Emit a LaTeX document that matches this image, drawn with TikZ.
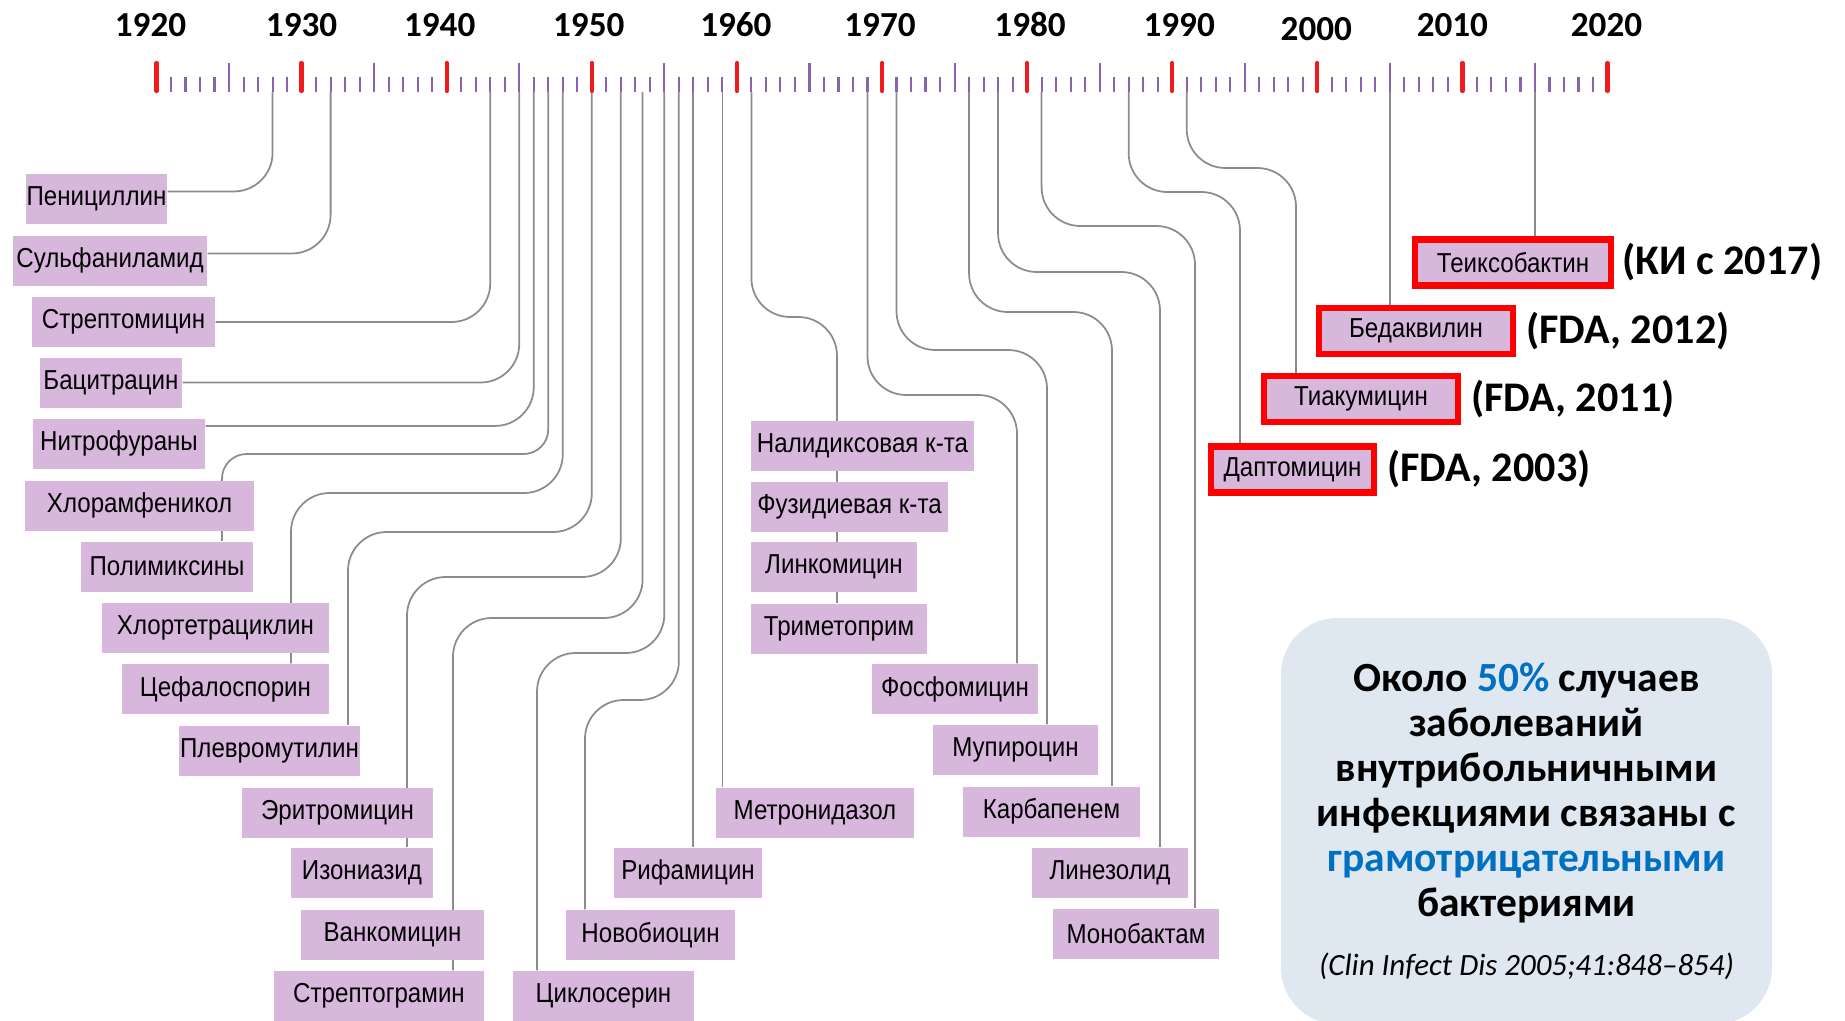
\documentclass[tikz,border=0pt]{standalone}
\usepackage{fontspec}
\setmainfont{Liberation Sans}
\newfontfamily\narrowfont[FakeStretch=0.88]{Liberation Sans}
\newfontfamily\calfont{Carlito}
\usetikzlibrary{positioning}
\pgfdeclarelayer{background}
\pgfsetlayers{background,main}

\definecolor{abxfill}{HTML}{D8B7DD}
\definecolor{linkgray}{HTML}{8C8C8C}
\definecolor{tickpurple}{HTML}{8A62AE}
\definecolor{tickred}{HTML}{EE1C1C}
\definecolor{fdared}{HTML}{FF0000}
\definecolor{notefill}{HTML}{DFE7F1}
\definecolor{noteblue}{HTML}{0070C0}

\tikzset{
  abx/.style       ={fill=abxfill, inner sep=0pt, minimum height=5mm,
                     font=\narrowfont\fontsize{7.8}{9}\selectfont},
  newabx/.style    ={abx, draw=fdared, line width=1.8pt, minimum height=4.6mm},
  link/.style      ={linkgray, line width=0.5pt, rounded corners=11pt},
  yeartick/.style  ={tickpurple, line width=0.6pt},
  decadetick/.style={tickred, line width=1.2pt, line cap=round},
  yearlbl/.style   ={font=\calfont\bfseries\fontsize{10}{12}\selectfont,
                     anchor=base, inner sep=0pt},
  fdalbl/.style    ={font=\calfont\bfseries\fontsize{12}{14}\selectfont, inner sep=1pt},
  notebox/.style   ={fill=notefill, rounded corners=16pt, align=center,
                     minimum width=49.1mm, minimum height=40.6mm,
                     font=\calfont\fontsize{11.8}{12.8}\selectfont},
}

\begin{document}
\begin{tikzpicture}[x=0.1mm, y=-0.1mm]
  \useasboundingbox (0,0) rectangle (1845,1021);

  % time axis
  \foreach \yr in {1920,...,2020} {
    \pgfmathsetmacro\tx{156.5+14.51*(\yr-1920)}
    \pgfmathtruncatemacro\md{mod(\yr,10)}
    \ifnum\md=0
      \draw[decadetick] (\tx,63) -- (\tx,91);
    \else\ifnum\md=5
      \draw[yeartick] (\tx,63) -- (\tx,92);
    \else
      \draw[yeartick] (\tx,77) -- (\tx,92);
    \fi\fi
  }
  \foreach \yr/\dx/\dy in {1920/-6/0, 1930/0/0, 1940/-7/0, 1950/-3/0, 1960/-1/0,
                          1970/-2/0, 1980/3/0, 1990/7/0, 2000/-1/4, 2010/-10/0, 2020/-1/0}
    \node[yearlbl] (lbl\yr) at ({156.5+14.51*(\yr-1920)+\dx},{36+\dy}) {\yr};

  % tick feet
  \foreach \yr in {1928,1932,1943,1945,1946,1947,1948,1950,1952,1955,1956,1957,1959,
                   1961,1969,1971,1976,1978,1981,1987,1991,2005,2015}
    \coordinate (t\yr) at ({156.5+14.51*(\yr-1920)},92);
  \coordinate (t1953b) at ({156.5+14.51*33.5},92);

  % left column
  \node[abx, minimum width=14.1mm] (pen)  at (  96.5, 198.5) {Пенициллин};
  \node[abx, minimum width=19.4mm] (sulf) at ( 110  , 260.5) {Сульфаниламид};
  \node[abx, minimum width=18.3mm] (strm) at ( 123.5, 322  ) {Стрептомицин};
  \node[abx, minimum width=14.2mm] (bac)  at ( 111  , 382.5) {Бацитрацин};
  \node[abx, minimum width=17.2mm] (nitr) at ( 119  , 443.5) {Нитрофураны};
  \node[abx, minimum width=22.9mm] (hlor) at ( 139.5, 505.5) {Хлорамфеникол};
  \node[abx, minimum width=17.2mm] (poly) at ( 167  , 566.5) {Полимиксины};
  \node[abx, minimum width=22.7mm] (hltc) at ( 215.5, 628  ) {Хлортетрациклин};
  \node[abx, minimum width=20.7mm] (ceph) at ( 225.5, 689  ) {Цефалоспорин};
  \node[abx, minimum width=18.1mm] (plev) at ( 269.5, 750.5) {Плевромутилин};
  \node[abx, minimum width=19.1mm] (eri)  at ( 337.5, 812.5) {Эритромицин};
  \node[abx, minimum width=14.2mm] (izo)  at ( 362  , 872.5) {Изониазид};
  \node[abx, minimum width=18.3mm] (vanc) at ( 392.5, 935  ) {Ванкомицин};
  \node[abx, minimum width=21.0mm] (stgr) at ( 379  , 996  ) {Стрептограмин};
  \node[abx, minimum width=18.1mm] (cycl) at ( 603.5, 996  ) {Циклосерин};
  \node[abx, minimum width=16.9mm] (novo) at ( 650.5, 935  ) {Новобиоцин};
  \node[abx, minimum width=14.8mm] (rif)  at ( 688  , 872.5) {Рифамицин};
  \node[abx, minimum width=19.8mm] (metr) at ( 815  , 812.5) {Метронидазол};

  % middle column
  \node[abx, minimum width=22.3mm] (nal)  at ( 862.5, 446  ) {Налидиксовая к-та};
  \node[abx, minimum width=19.7mm] (fuz)  at ( 849.5, 507  ) {Фузидиевая к-та};
  \node[abx, minimum width=16.6mm] (linc) at ( 834  , 567  ) {Линкомицин};
  \node[abx, minimum width=17.6mm] (trim) at ( 839  , 628.5) {Триметоприм};
  \node[abx, minimum width=16.6mm] (fosf) at ( 955  , 689  ) {Фосфомицин};
  \node[abx, minimum width=16.5mm] (mup)  at (1015.5, 750  ) {Мупироцин};
  \node[abx, minimum width=17.7mm] (carb) at (1051.5, 811.5) {Карбапенем};
  \node[abx, minimum width=15.6mm] (linz) at (1110  , 872.5) {Линезолид};
  \node[abx, minimum width=16.6mm] (mono) at (1136  , 933.5) {Монобактам};

  % new ones
  \node[newabx, minimum width=16.3mm] (dapt) at (1292.5, 469.5) {Даптомицин};
  \node[newabx, minimum width=19.4mm] (tiak) at (1361  , 399  ) {Тиакумицин};
  \node[newabx, minimum width=19.4mm] (bedq) at (1416  , 331  ) {Бедаквилин};
  \node[newabx, minimum width=19.6mm] (teix) at (1513  , 262.5) {Теиксобактин};
  \node[fdalbl, right=0.6mm of dapt] (daptnote) {(FDA, 2003)};
  \node[fdalbl, right=0.6mm of tiak] (tiaknote) {(FDA, 2011)};
  \node[fdalbl, right=0.6mm of bedq] (bedqnote) {(FDA, 2012)};
  \node[fdalbl, right=0.4mm of teix] (teixnote) {(КИ с 2017)};

  % note
  \node[notebox] (note) at (1526.5,821) {\bfseries Около {\color{noteblue}50\%} случаев\\
    \bfseries заболеваний\\ \bfseries внутрибольничными\\
    \bfseries инфекциями связаны с\\ \bfseries{\color{noteblue}грамотрицательными}\\
    \bfseries бактериями\\[4pt]
    \itshape\fontsize{8.8}{10}\selectfont (Clin Infect Dis 2005;41:848–854)};

  % connectors
  \begin{pgfonlayer}{background}
    \draw[link] (t1928) |- ([yshift=2pt]pen.east);
    \draw[link] (t1932) |- ([yshift=2pt]sulf.east);
    \draw[link] (t1943) |- (strm.east);
    \draw[link] (t1945) |- (bac.east);
    \draw[link] (t1946) |- ([yshift=5pt]nitr.east);
    \draw[link, rounded corners=7pt] (t1947) |- (222,454) -- (222,0 |- poly.north);
    \draw[link] (t1948)  |- (291,493) -- (291,0 |- ceph.north);
    \draw[link] (t1950)  |- (348,532) -- (348,0 |- plev.north);
    \draw[link] (t1952)  |- (407,577) -- (407,0 |- izo.north);
    \draw[link] (t1953b) |- (453,618) -- (453,0 |- stgr.north);
    \draw[link] (t1955)  |- (537,653) -- (537,0 |- cycl.north);
    \draw[link] (t1956)  |- (585,700) -- (585,0 |- novo.north);
    \draw[link] (t1957) -- (t1957 |- rif.north);
    \draw[link] (t1959) -- (t1959 |- metr.north);
    \draw[link] (t1961) |- (837,317)  -- (837,0 |- trim.north);
    \draw[link] (t1969) |- (1017,395) -- (1017,0 |- fosf.north);
    \draw[link] (t1971) |- (1047,350) -- (1047,0 |- mup.north);
    \draw[link] (t1976) |- (1112,312) -- (1112,0 |- carb.north);
    \draw[link] (t1978) |- (1160,272) -- (1160,0 |- linz.north);
    \draw[link] (t1981) |- (1195,226) -- (1195,0 |- mono.north);
    \draw[link] (t1987) |- (1240,192) -- (1240,0 |- dapt.north);
    \draw[link] (t1991) |- (1296,168) -- (1296,0 |- tiak.north);
    \draw[link] (t2005) -- (t2005 |- bedq.north);
    \draw[link] (t2015) -- (t2015 |- teix.north);
  \end{pgfonlayer}
\end{tikzpicture}
\end{document}
